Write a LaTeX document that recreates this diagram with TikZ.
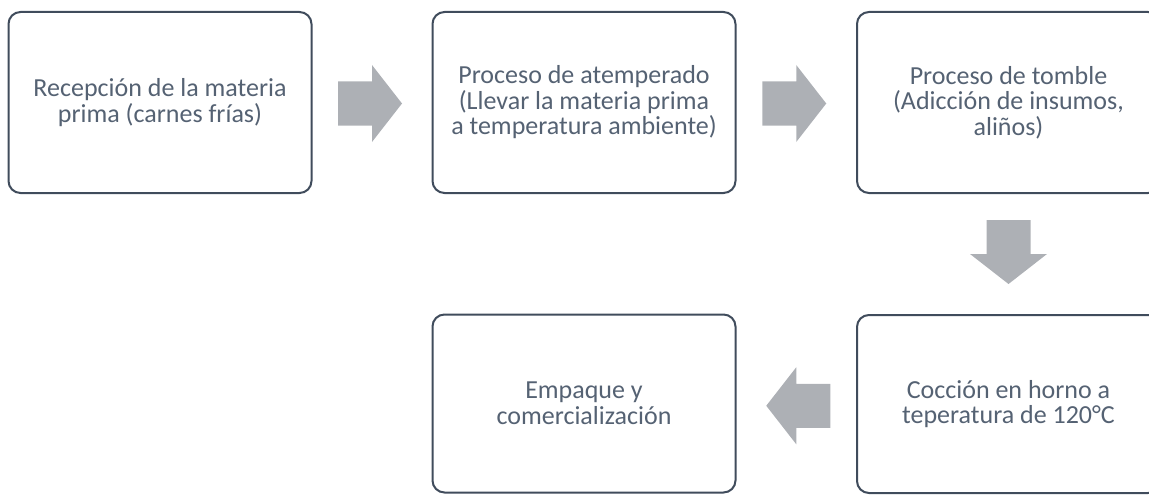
\documentclass[tikz,border=0pt]{standalone}
\usepackage{fontspec}
\setmainfont{Carlito}
\usetikzlibrary{calc}
\definecolor{boxline}{HTML}{404C5C}
\definecolor{boxtext}{HTML}{556273}
\definecolor{arrowfill}{HTML}{ADB0B5}
\tikzset{
  stepbox/.style={draw=boxline, line width=2pt, rounded corners=12pt, fill=white,
    minimum width=303pt, minimum height=181pt, align=center, text=boxtext,
    font=\fontsize{26}{25.5}\selectfont, inner sep=0pt},
  blockarrow/.style={fill=arrowfill, draw=none}
}
\newcommand{\blkarrow}[2]{%
  \fill[blockarrow, shift={(#1)}, rotate=#2]
    (-34,-22) -- (0,-22) -- (0,-38.5) -- (30,0) -- (0,38.5) -- (0,22) -- (-34,22) -- cycle;}
\begin{document}
\begin{tikzpicture}[x=1pt,y=-1pt]
\useasboundingbox (0,0) rectangle (1149,495);
\node[stepbox] (b1) at (160,102.5) {Recepción de la materia\\prima (carnes frías)};
\node[stepbox] (b2) at (584,102.5) {Proceso de atemperado\\(Llevar la materia prima\\a temperatura ambiente)};
\node[stepbox] (b3) at (1008.5,102.5) {Proceso de tomble\\(Adicción de insumos,\\aliños)};
\node[stepbox, minimum height=178pt] (b4) at (1008.5,404) {Cocción en horno a\\teperatura de 120°C};
\node[stepbox, minimum height=178pt] (b5) at (584,403.5) {Empaque y\\comercialización};
\coordinate (a1) at ($(b1.east)!0.5!(b2.west)+(0,1)$);
\coordinate (a2) at ($(b2.east)!0.5!(b3.west)+(0,1)$);
\coordinate (a3) at ($(b3.south)!0.5!(b4.north)$);
\coordinate (a4) at ($(b4.west)!0.5!(b5.east)+(0,2)$);
\blkarrow{a1}{0}
\blkarrow{a2}{0}
\blkarrow{a3}{-90}
\blkarrow{a4}{180}
\end{tikzpicture}
\end{document}
